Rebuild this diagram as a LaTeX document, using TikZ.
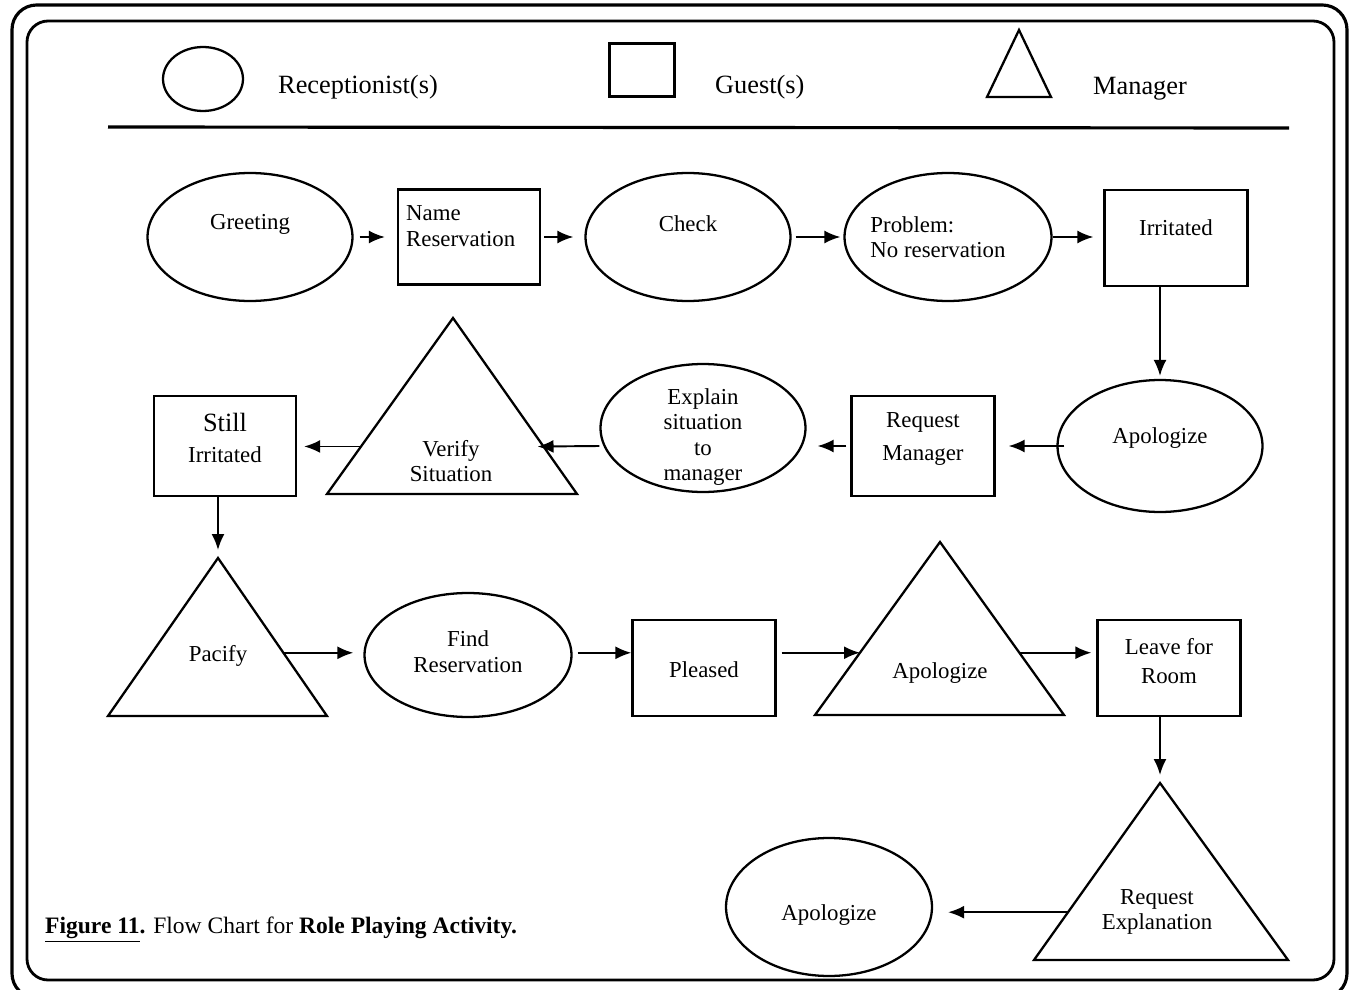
\documentclass[tikz,border=0pt]{standalone}
\usepackage{fontspec}
\setmainfont{Liberation Serif}
\usetikzlibrary{shapes.geometric,arrows.meta,calc}

\tikzset{
  recep/.style={draw, ellipse, line width=1.3pt, inner sep=0pt, minimum width=4.1cm, minimum height=2.56cm},
  guest/.style={draw, rectangle, line width=1.3pt, inner sep=0pt, minimum width=2.86cm, minimum height=1.92cm},
  mgr/.style={line width=1.3pt, line join=miter},
  txt/.style={font=\fontsize{13}{14.5}\selectfont, align=center},
  keytxt/.style={anchor=west, font=\fontsize{15}{17}\selectfont},
  flow/.style={-{Latex[length=3.2mm,width=2.6mm]}, line width=1.1pt},
}

\begin{document}
\begin{tikzpicture}[x=0.02cm, y=-0.02cm]
    \useasboundingbox (0,0) rectangle (1353,990);
    \clip (0,0) rectangle (1353,990);

    % frame
    \draw[line width=1.8pt, rounded corners=14pt] (12,5) rectangle (1347,998);
    \draw[line width=1.6pt, rounded corners=12pt] (27,21) rectangle (1334,980);

    % legend
    \node[draw, ellipse, line width=1.3pt, minimum width=1.6cm, minimum height=1.28cm] (key-r) at (203,79) {};
    \node[keytxt] (key-rt) at (272,87) {Receptionist(s)};
    \node[guest, minimum width=1.3cm, minimum height=1.06cm] (key-g) at (642,70) {};
    \node[keytxt] (key-gt) at (709,87) {Guest(s)};
    \coordinate (key-m-t) at (1019,30);
    \coordinate (key-m-l) at (987,97);
    \coordinate (key-m-r) at (1051,97);
    \draw[mgr] (key-m-t) -- (key-m-l) -- (key-m-r) -- cycle;
    \node[keytxt] (key-mt) at (1087,89) {Manager};
    \draw[line width=1.8pt] (108,127) -- (1289,128);

    % row 1
    \node[recep, label={[txt, yshift=0.26cm]center:Greeting}] (greet) at (250,237) {};
    \node[guest, minimum width=2.84cm, minimum height=1.9cm,
          label={[txt, align=left, inner sep=0pt, anchor=north west, xshift=0.18cm, yshift=-0.34cm]north west:{Name\\Reservation}}] (namer) at (469,237) {};
    \node[recep, label={[txt, yshift=0.26cm]center:Check}] (check) at (688,237) {};
    \node[recep, minimum width=4.14cm, label={[txt, align=left, xshift=-0.2cm]center:{Problem:\\No reservation}}] (prob) at (948,237) {};
    \node[guest, label={[txt, yshift=0.2cm]center:Irritated}] (irr) at (1176,238) {};

    % row 2
    \node[recep, minimum height=2.64cm, label={[txt, yshift=0.16cm]center:Apologize}] (apol1) at (1160,446) {};
    \node[guest, minimum height=2cm, label={[txt, yshift=0.14cm]center:{Request\\[4pt]Manager}}] (reqm) at (923,446) {};
    \node[recep, label={[txt, yshift=-0.18cm]center:{Explain\\situation\\to\\manager}}] (expl) at (703,428) {};
    \coordinate (ver-t) at (453,318);
    \coordinate (ver-l) at (327,494);
    \coordinate (ver-r) at (577,494);
    \draw[mgr] (ver-t) -- (ver-l) -- (ver-r) -- cycle;
    \node[txt] (ver) at (451,461) {Verify\\Situation};
    \node[guest, minimum width=2.84cm, minimum height=2cm, label={[txt, yshift=0.16cm]center:{\fontsize{15}{16}\selectfont Still\\[3pt]Irritated}}] (still) at (225,446) {};

    % row 3
    \coordinate (pac-t) at (218,558);
    \coordinate (pac-l) at (108,716);
    \coordinate (pac-r) at (327,716);
    \draw[mgr] (pac-t) -- (pac-l) -- (pac-r) -- cycle;
    \node[txt] (pac) at (218,656) {Pacify};
    \node[recep, minimum width=4.14cm, minimum height=2.48cm, label={[txt, yshift=0.07cm]center:{Find\\Reservation}}] (findr) at (468,655) {};
    \node[guest, label={[txt, yshift=-0.04cm]center:Pleased}] (pleas) at (704,668) {};
    \coordinate (apol2-t) at (940,542);
    \coordinate (apol2-l) at (815,715);
    \coordinate (apol2-r) at (1064,715);
    \draw[mgr] (apol2-t) -- (apol2-l) -- (apol2-r) -- cycle;
    \node[txt] (apol2) at (940,673) {Apologize};
    \node[guest, label={[txt, yshift=0.13cm]center:{Leave for\\[2pt]Room}}] (leave) at (1169,668) {};

    % row 4
    \coordinate (reqx-t) at (1160,783);
    \coordinate (reqx-l) at (1034,960);
    \coordinate (reqx-r) at (1288,960);
    \draw[mgr] (reqx-t) -- (reqx-l) -- (reqx-r) -- cycle;
    \node[txt] (reqx) at (1157,912) {Request\\Explanation};
    \node[recep, minimum width=4.12cm, minimum height=2.76cm, label={[txt, yshift=-0.16cm]center:Apologize}] (apol3) at (829,907) {};

    % caption
    \node[anchor=west, font=\fontsize{13.4}{15}\selectfont] (cap) at (39,930)
        {\textbf{\underline{Figure 11}.} Flow Chart for \textbf{Role Playing Activity.}};

    % points where the arrows meet the triangles
    \coordinate (ver-in) at ($(ver-r)!0.27!(ver-t)$);
    \coordinate (ver-out) at ($(ver-l)!0.27!(ver-t)$);
    \coordinate (pac-out) at ($(pac-r)!0.4!(pac-t)$);
    \coordinate (apol2-in) at ($(apol2-l)!0.36!(apol2-t)$);
    \coordinate (apol2-out) at ($(apol2-r)!0.36!(apol2-t)$);
    \coordinate (reqx-out) at ($(reqx-l)!0.27!(reqx-t)$);

    % arrows
    \draw[flow, shorten <=0.12cm, shorten >=0.24cm] (greet) -- (namer);
    \draw[flow, shorten <=0.06cm, shorten >=0.22cm] (namer) -- (check);
    \draw[flow, shorten <=0.08cm, shorten >=0.06cm] (check) -- (prob);
    \draw[flow, shorten >=0.2cm] (prob) -- (irr.west |- prob);
    \draw[flow, shorten >=0.06cm] (irr.south -| apol1) -- (apol1.north);
    \draw[flow, shorten <=-0.16cm, shorten >=0.26cm] (apol1) -- (reqm);
    \draw[flow, shorten <=0.08cm, shorten >=0.22cm] (reqm.west) -- (reqm.west -| expl.east);
    \draw[flow, shorten >=-0.12cm] (expl.west |- reqm.west) -- (ver-in);
    \draw[flow, shorten >=0.14cm] (ver-out) -- (still.east |- ver-out);
    \draw[flow, shorten >=0.16cm] (still.south -| pac-t) -- (pac-t);
    \draw[flow, shorten >=0.2cm] (pac-out) -- (findr.west |- pac-out);
    \draw[flow, shorten <=0.1cm] (findr.east |- pac-out) -- (pleas.west |- pac-out);
    \draw[flow, shorten <=0.1cm] (pleas.east |- apol2-in) -- (apol2-in);
    \draw[flow, shorten >=0.1cm] (apol2-out) -- (leave.west |- apol2-out);
    \draw[flow, shorten >=0.16cm] (leave.south -| reqx-t) -- (reqx-t);
    \draw[flow, shorten >=0.3cm] (reqx-out) -- (apol3.east |- reqx-out);
\end{tikzpicture}
\end{document}
